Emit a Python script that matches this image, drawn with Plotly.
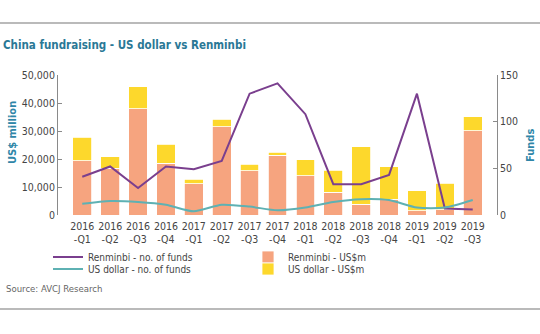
import plotly.graph_objects as go

# Quarterly China fundraising, split by currency of the fund
quarters = ["2016<br>-Q1", "2016<br>-Q2", "2016<br>-Q3", "2016<br>-Q4",
            "2017<br>-Q1", "2017<br>-Q2", "2017<br>-Q3", "2017<br>-Q4",
            "2018<br>-Q1", "2018<br>-Q2", "2018<br>-Q3", "2018<br>-Q4",
            "2019<br>-Q1", "2019<br>-Q2", "2019<br>-Q3"]

# Capital raised (US$ million)
rmb_usdm = [19400, 16700, 37900, 18450, 11200, 31500, 15800, 21400,
            14100, 8100, 3900, 5600, 1600, 1800, 30100]
usd_usdm = [8350, 4150, 7950, 6900, 1650, 2650, 2300, 950,
            5550, 7950, 20500, 11650, 7100, 9500, 5000]

# Number of funds closed
rmb_funds = [41, 52, 29, 52, 49, 58, 130, 141, 108, 33, 33, 43, 130, 7, 6]
usd_funds = [12, 15, 14, 11, 4, 11, 9, 5, 8, 14, 17, 16, 8, 8, 16]

FONT = "Liberation Sans Narrow, DejaVu Sans Condensed, Roboto Condensed, Roboto, sans-serif"
TEXT = "#444444"
AXIS = "#8a8a8a"
TEAL_TXT = "#2f86a8"

C_RMB_BAR = "#f6a47f"
C_USD_BAR = "#fdd82c"
C_RMB_LINE = "#7a3f8e"
C_USD_LINE = "#5eb1b3"

W, H = 540, 334

fig = go.Figure()

fig.add_trace(go.Bar(
    x=quarters, y=rmb_usdm, name="Renminbi - US$m",
    marker=dict(color=C_RMB_BAR, line=dict(color="white", width=0.8)),
    legend="legend3",
))
fig.add_trace(go.Bar(
    x=quarters, y=usd_usdm, name="US dollar - US$m",
    marker=dict(color=C_USD_BAR, line=dict(color="white", width=0.8)),
    legend="legend4",
))
fig.add_trace(go.Scatter(
    x=quarters, y=rmb_funds, name="Renminbi - no. of funds", yaxis="y2",
    mode="lines", line=dict(color=C_RMB_LINE, width=2),
    legend="legend",
))
fig.add_trace(go.Scatter(
    x=quarters, y=usd_funds, name="US dollar - no. of funds", yaxis="y2",
    mode="lines", line=dict(color=C_USD_LINE, width=2, shape="spline", smoothing=0.7),
    legend="legend2",
))

def legend_box(x_px, y_px):
    return dict(
        xref="container", yref="container",
        x=x_px / W, y=1 - y_px / H, xanchor="left", yanchor="middle",
        bgcolor="rgba(0,0,0,0)", borderwidth=0, itemwidth=30,
        font=dict(family=FONT, size=10, color=TEXT),
    )

L, R, T, B = 58, 43, 75, 119

fig.update_layout(
    width=W, height=H,
    margin=dict(l=L, r=R, t=T, b=B, autoexpand=False),
    paper_bgcolor="white", plot_bgcolor="white",
    barmode="stack", bargap=0.33,
    font=dict(family=FONT, size=10.5, color=TEXT),
    title=dict(
        text="China fundraising - US dollar vs Renminbi",
        xref="container", yref="container",
        x=3 / W, y=1 - 45 / H, xanchor="left", yanchor="middle",
        font=dict(family=FONT, size=11.5, color="#2a7896", weight="bold"),
    ),
    xaxis=dict(
        type="category", range=[-0.87, 14.87],
        showline=False, showgrid=False, zeroline=False, ticks="",
        ticklabelstandoff=3,
        tickfont=dict(size=10.5, color=TEXT),
    ),
    yaxis=dict(
        range=[0, 50000], tickvals=[0, 10000, 20000, 30000, 40000, 50000],
        tickformat=",", showgrid=False, zeroline=False,
        showline=True, linecolor=AXIS, linewidth=1,
        ticks="inside", ticklen=4, tickcolor=AXIS,
        tickfont=dict(size=10.5, color=TEXT),
    ),
    yaxis2=dict(
        overlaying="y", side="right",
        range=[0, 150], tickvals=[0, 50, 100, 150],
        showgrid=False, zeroline=False,
        showline=True, linecolor=AXIS, linewidth=1,
        ticks="inside", ticklen=4, tickcolor=AXIS,
        tickfont=dict(size=10.5, color=TEXT),
    ),
    showlegend=True,
    legend=legend_box(48, 257),
    legend2=legend_box(48, 269),
    legend3=legend_box(248, 257),
    legend4=legend_box(248, 269),
)

pw = W - L - R
ph = H - T - B

def px_x(x):
    return (x - L) / pw

def px_y(y):
    return (H - B - y) / ph

# Axis titles
fig.add_annotation(
    text="US$ million", textangle=-90, showarrow=False,
    xref="paper", yref="paper", x=px_x(12), y=px_y(133),
    xanchor="center", yanchor="middle",
    font=dict(family=FONT, size=11, color=TEAL_TXT, weight="bold"),
)
fig.add_annotation(
    text="Funds", textangle=-90, showarrow=False,
    xref="paper", yref="paper", x=px_x(530), y=px_y(146),
    xanchor="center", yanchor="middle",
    font=dict(family=FONT, size=11, color=TEAL_TXT, weight="bold"),
)

# Source note
fig.add_annotation(
    text="Source: AVCJ Research", showarrow=False,
    xref="paper", yref="paper", x=px_x(4), y=px_y(288),
    xanchor="left", yanchor="middle",
    font=dict(family=FONT, size=9.5, color="#666666"),
)

# Rules framing the chart block
for y in (23, 309):
    fig.add_shape(
        type="line", xref="paper", yref="paper",
        x0=px_x(0), x1=px_x(W), y0=px_y(y), y1=px_y(y),
        line=dict(color="#a3a3a3", width=1.5),
    )

fig.write_html("out.html")
